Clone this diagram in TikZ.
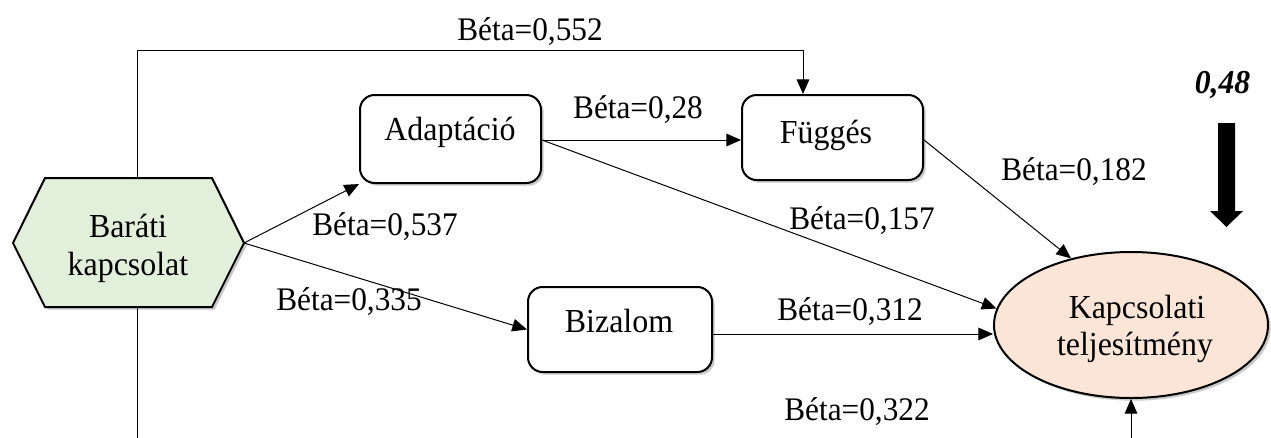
\documentclass[tikz,border=0pt]{standalone}
\usepackage{fontspec}
\setmainfont[FakeStretch=0.95]{Liberation Serif}
\usetikzlibrary{shadows,arrows.meta,shapes.geometric}
\definecolor{hexfill}{HTML}{E2EFDA}
\definecolor{ellfill}{HTML}{FBE5D6}
\begin{document}
\begin{tikzpicture}[x=0.75pt,y=-0.75pt,
  shad/.style={drop shadow={shadow xshift=2pt,shadow yshift=-2pt,opacity=0.35,fill=black!60}},
  box/.style={draw,line width=1.5pt,rounded corners=11pt,fill=white,shad,inner sep=0pt},
  txt/.style={font=\fontsize{25.2}{29}\selectfont,inner sep=0pt,anchor=base},
  lbl/.style={font=\fontsize{24.7}{29}\selectfont,inner sep=0pt,anchor=base},
  conn/.style={line width=0.75pt,-{Triangle[length=11pt,width=9.5pt]}},
  plain/.style={line width=0.75pt}]
\useasboundingbox (0,0) rectangle (1271,437);
\clip (0,0) rectangle (1271,437);
% hexagon
\coordinate (hexL) at (13,243);
\coordinate (hexR) at (244,243);
\coordinate (hexTop) at (137,178);
\coordinate (hexBot) at (137,307);
\filldraw[line width=1.5pt,fill=hexfill,shad] (hexL) -- (45,178) -- (212,178) -- (hexR) -- (212,307) -- (45,307) -- cycle;
\node[txt] (barati1) at (128,237) {Baráti};
\node[txt] (barati2) at (128,275) {kapcsolat};
% boxes
\node[box,minimum width=0.75*181pt,minimum height=0.75*88pt] (adapt) at (450.5,139) {};
\node[txt] (adaptT) at (450,140) {Adaptáció};
\node[box,minimum width=0.75*181pt,minimum height=0.75*85pt] (fugg) at (832.5,137.5) {};
\node[txt] (fuggT) at (826,143) {Függés};
\node[box,minimum width=0.75*184pt,minimum height=0.75*85pt] (biz) at (620,329.5) {};
\node[txt] (bizT) at (619,332) {Bizalom};
% ellipse
\node[ellipse,draw,line width=1.5pt,fill=ellfill,shad,minimum width=0.75*274pt,minimum height=0.75*146pt,inner sep=0pt] (kt) at (1131,325) {};
\node[txt] (kt1) at (1137,318) {Kapcsolati};
\node[txt] (kt2) at (1135,355) {teljesítmény};
% big arrow
\fill (1218,123) -- (1235,123) -- (1235,211) -- (1243,211) -- (1226.5,227) -- (1210,211) -- (1218,211) -- cycle;
\node[font=\fontsize{25}{29}\selectfont\bfseries\itshape,inner sep=0pt,anchor=base] (r2) at (1222.5,93) {0,48};
% connectors
\coordinate (topL) at (137,50);
\coordinate (topR) at (803,50);
\draw[conn] (hexTop) -- (topL) -- (topR) -- (topR |- fugg.north);
\draw[conn] (hexR) -- (adapt.south west);
\draw[conn] (hexR) -- (biz.west);
\draw[conn] (adapt.east |- 0,140) -- (fugg.west |- 0,140);
\draw[conn] (adapt.east |- 0,140) -- (kt.173);
\draw[conn] (fugg.east |- 0,140) -- (kt.132);
\draw[conn] (biz.east |- 0,334) -- (kt.west |- 0,334);
\coordinate (botB) at (137,460);
\draw[plain] (hexBot) -- (botB);
\coordinate (botK) at (1131,460);
\draw[conn] (botK) -- (kt.south);
% labels
\node[lbl] (l552) at (530,40) {Béta=0,552};
\node[lbl] (l28) at (638,118) {Béta=0,28};
\node[lbl] (l537) at (385,235) {Béta=0,537};
\node[lbl] (l157) at (862,229) {Béta=0,157};
\node[lbl] (l182) at (1074,180) {Béta=0,182};
\node[lbl] (l335) at (349,310) {Béta=0,335};
\node[lbl] (l312) at (850,320) {Béta=0,312};
\node[lbl] (l322) at (857,420) {Béta=0,322};
\end{tikzpicture}
\end{document}
